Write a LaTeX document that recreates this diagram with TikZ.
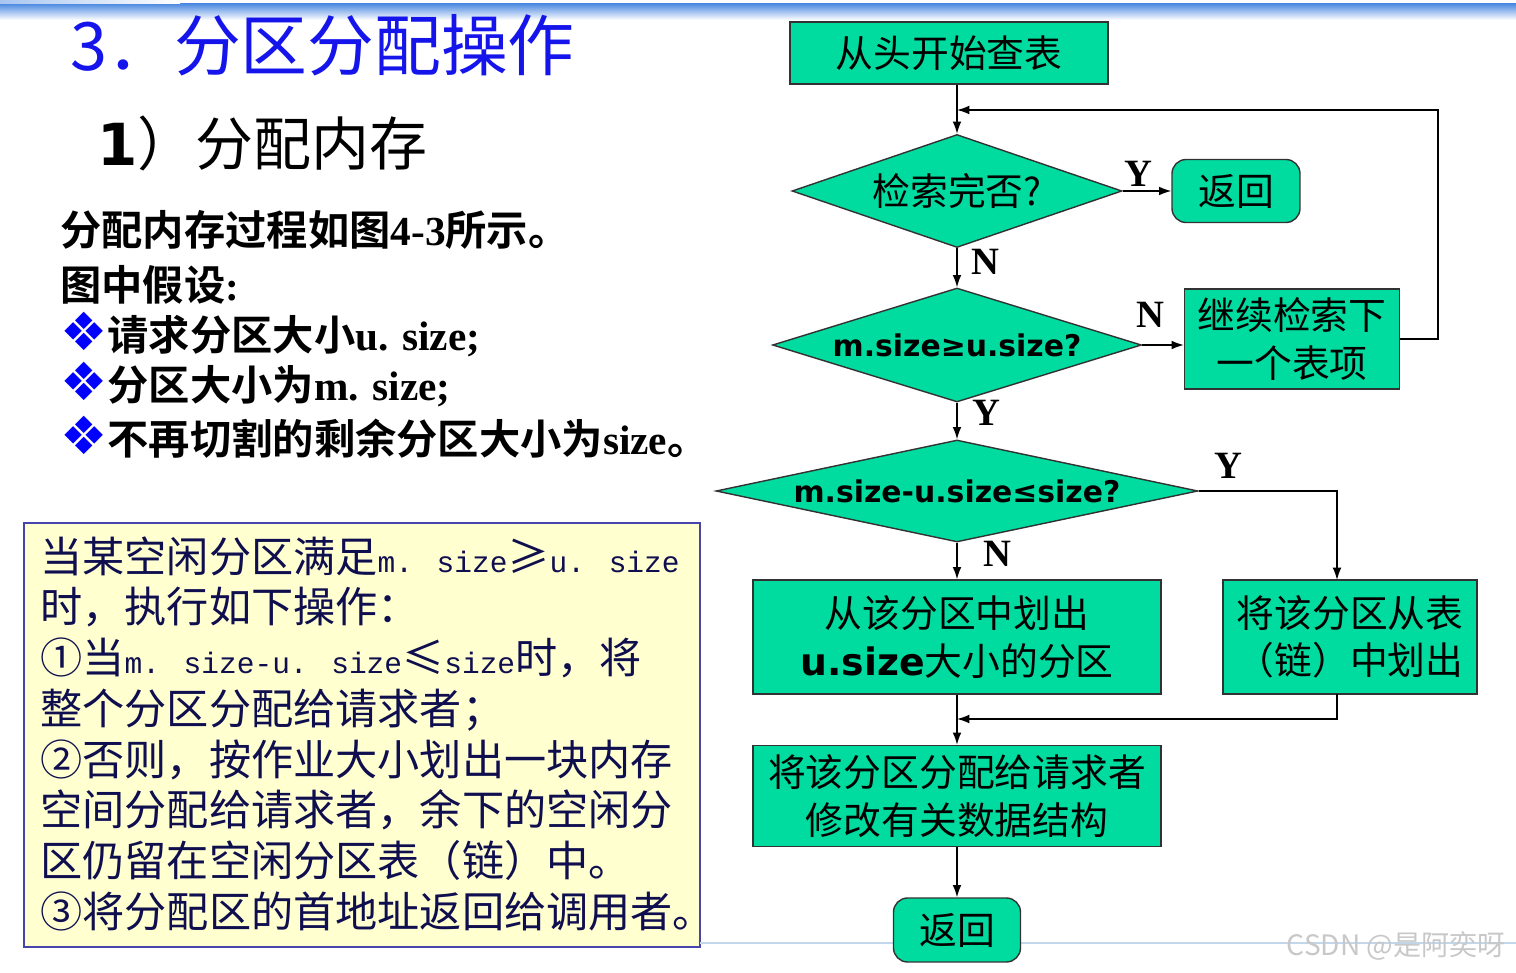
\documentclass[tikz,border=0pt]{standalone}
\usepackage{fontspec}
\setmainfont{Liberation Serif}
\newfontfamily\cjk{Noto Sans CJK SC}[BoldFont={Noto Sans CJK SC Bold}]
\newfontfamily\dsans{DejaVu Sans}
\newfontfamily\notemono{Liberation Mono}[Scale=0.7]
\newfontfamily\dings{DejaVu Sans}
\usetikzlibrary{shapes.geometric,arrows.meta}
\definecolor{flowgreen}{RGB}{0,220,160}
\definecolor{flowedge}{RGB}{50,50,50}
\definecolor{noteyellow}{RGB}{255,255,208}
\definecolor{noteedge}{RGB}{70,70,170}
\definecolor{notetext}{RGB}{15,15,80}
\definecolor{titleblue}{RGB}{20,20,235}
\definecolor{barblue}{RGB}{80,140,225}
\definecolor{footline}{RGB}{195,215,235}
\definecolor{markgray}{RGB}{200,200,200}
\newcommand\diabullet{{\color{blue}\fontsize{30}{30}\dings ❖}}

\begin{document}
\begin{tikzpicture}[x=0.02cm, y=-0.02cm, >={Latex[length=7pt,width=5pt]},
  proc/.style={draw=flowedge, line width=0.8pt, fill=flowgreen, inner sep=0pt,
    align=center, font=\fontsize{21.5}{27}\cjk},
  decide/.style={diamond, draw=flowedge, line width=0.8pt, fill=flowgreen,
    inner sep=0pt, font=\fontsize{17}{21}\dsans\bfseries},
  endbox/.style={proc, rounded corners=8pt},
  yn/.style={font=\fontsize{22}{22}\selectfont\bfseries},
  bold/.style={anchor=west, inner sep=0pt, font=\fontsize{23.5}{24}\cjk\bfseries},
  flow/.style={->, line width=0.8pt}]
  \useasboundingbox (0,0) rectangle (1516,973);
  % Slide header bar
  \shade[top color=barblue, bottom color=white] (0,4) rectangle (1516,20);
  \shade[left color=barblue!50, right color=white] (0,0) rectangle (180,4);
  % Titles
  \node[anchor=west, inner sep=0pt, text=titleblue, font=\fontsize{38}{38}\cjk] (title) at (70,45) {3．分区分配操作};
  \node[anchor=west, inner sep=0pt, font=\fontsize{33}{33}\cjk] (sub) at (97,143) {{\dsans\bfseries 1}）分配内存};
  % Assumptions
  \node[bold] (intro) at (60,230) {分配内存过程如图{\rmfamily 4-3}所示。};
  \node[bold] (assume) at (60,285) {图中假设{\rmfamily :}};
  \node[bold] (req) at (60,335) {\diabullet 请求分区大小{\rmfamily u. size;}};
  \node[bold] (part) at (60,385) {\diabullet 分区大小为{\rmfamily m. size;}};
  \node[bold] (rest) at (60,437) {\diabullet 不再切割的剩余分区大小为{\rmfamily size}。};
  % Note box
  \node[draw=noteedge, fill=noteyellow, line width=0.8pt, minimum width=13.52cm,
    minimum height=8.48cm] (notebox) at (362,735) {};
  \node[anchor=north west, align=left, text=notetext, inner sep=0pt,
    font=\fontsize{24}{28.9}\cjk] (note) at (40,536)
    {当某空闲分区满足{\notemono m. size}≥{\notemono u. size}\\
     时，执行如下操作：\\
     ①当{\notemono m. size-u. size}≤{\notemono size}时，将\\
     整个分区分配给请求者；\\
     ②否则，按作业大小划出一块内存\\
     空间分配给请求者，余下的空闲分\\
     区仍留在空闲分区表（链）中。\\
     ③将分配区的首地址返回给调用者。};
  % Footer line and watermark
  \draw[footline, line width=0.8pt] (700,943) -- (1516,943);
  \node[anchor=east, text=markgray, font=\fontsize{16}{16}\cjk] (mark) at (1512,946) {CSDN @是阿奕呀};
  % Flowchart
  \node[proc, minimum width=6.36cm, minimum height=1.24cm] (start) at (949,53) {从头开始查表};
  \node[decide, aspect=2.92, minimum width=6.6cm, minimum height=2.26cm,
    font=\fontsize{21.5}{27}\cjk] (done) at (957,191) {检索完否?};
  \node[endbox, minimum width=2.56cm, minimum height=1.26cm] (ret) at (1236,191) {返回};
  \node[decide, aspect=3.24, minimum width=7.38cm, minimum height=2.28cm] (fit) at (957,345) {m.size≥u.size?};
  \node[proc, minimum width=4.3cm, minimum height=2cm] (next) at (1292,339) {继续检索下\\一个表项};
  \node[decide, aspect=4.73, minimum width=9.64cm, minimum height=2.04cm] (left) at (957,491) {m.size-u.size≤size?};
  \node[proc, minimum width=8.16cm, minimum height=2.28cm] (split) at (957,637)
    {从该分区中划出\\{\dsans\bfseries u.size}大小的分区};
  \node[proc, minimum width=5.08cm, minimum height=2.28cm] (whole) at (1350,637) {将该分区从表\\（链）中划出};
  \node[proc, minimum width=8.16cm, minimum height=2.02cm] (assign) at (957,796)
    {将该分区分配给请求者\\修改有关数据结构};
  \node[endbox, minimum width=2.54cm, minimum height=1.28cm] (fin) at (957,930) {返回};
  % Bend points
  \coordinate (loopr) at (1438,110);
  \coordinate (loopin) at (957,110);
  \coordinate (wholein) at (1337,580);
  \coordinate (wholeout) at (1337,694);
  \coordinate (merge) at (957,719);
  % Connectors
  \draw[flow] (start.south -| done.north) -- (done.north);
  \draw[flow] (done.east) -- (ret.west);
  \draw[flow] (done.south) -- (fit.north);
  \draw[flow] (fit.east) -- (fit.east -| next.west);
  \draw[flow] (next.east) -| (loopr) -- (loopin);
  \draw[flow] (fit.south) -- (left.north);
  \draw[flow] (left.east) -| (wholein);
  \draw[flow] (left.south) -- (split.north);
  \draw[flow] (wholeout) |- (merge);
  \draw[flow] (split.south) -- (assign.north);
  \draw[flow] (assign.south) -- (fin.north);
  % Branch labels
  \node[yn] (y1) at (1138,174) {Y};
  \node[yn] (n1) at (985,262) {N};
  \node[yn] (n2) at (1150,315) {N};
  \node[yn] (y2) at (986,413) {Y};
  \node[yn] (y3) at (1228,466) {Y};
  \node[yn] (n3) at (997,554) {N};
\end{tikzpicture}
\end{document}
